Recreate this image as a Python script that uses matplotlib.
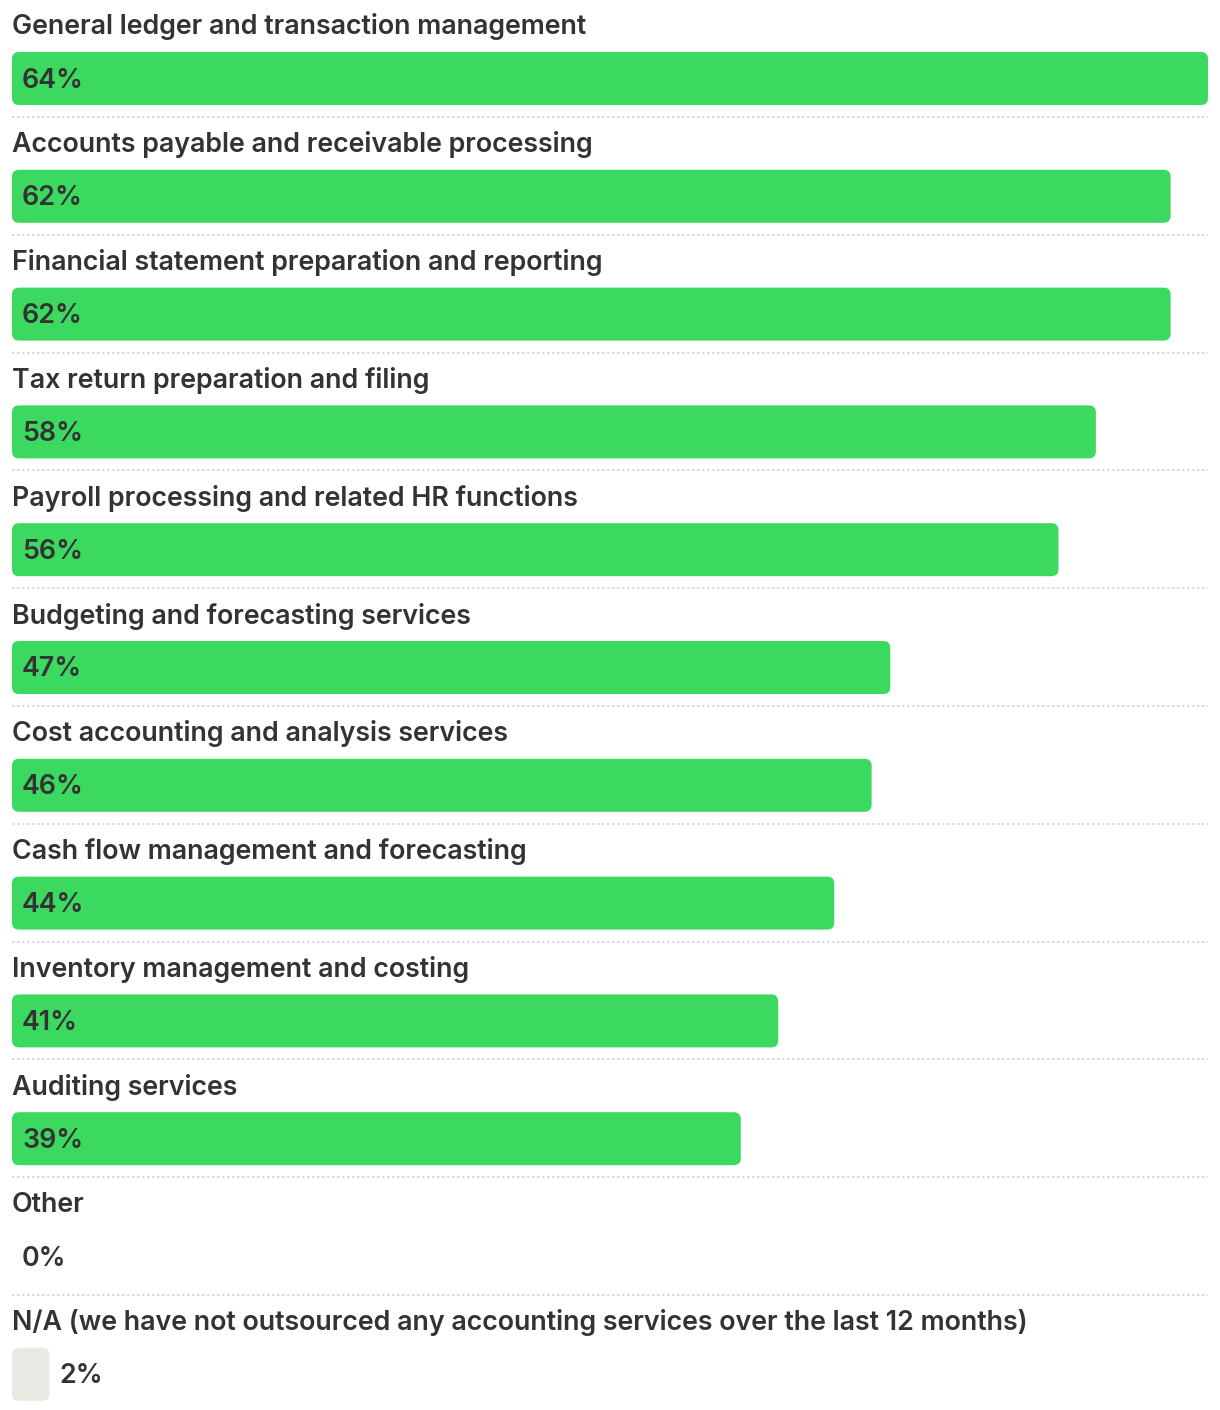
import matplotlib
matplotlib.use("Agg")
from matplotlib import pyplot as plt
from matplotlib.patches import FancyBboxPatch

labels = [
    "General ledger and transaction management",
    "Accounts payable and receivable processing",
    "Financial statement preparation and reporting",
    "Tax return preparation and filing",
    "Payroll processing and related HR functions",
    "Budgeting and forecasting services",
    "Cost accounting and analysis services",
    "Cash flow management and forecasting",
    "Inventory management and costing",
    "Auditing services",
    "Other",
    "N/A (we have not outsourced any accounting services over the last 12 months)",
]
values = [64, 62, 62, 58, 56, 47, 46, 44, 41, 39, 0, 2]
colors = ["#3bd960"] * 10 + ["#3bd960", "#e9e9e3"]

W, H = 1220, 1410
plt.rcParams["font.family"] = ["Inter", "DejaVu Sans"]

fig = plt.figure(figsize=(W / 100, H / 100), dpi=100)
x0, x1 = 12, 1208
ax = fig.add_axes([x0 / W, 0, (x1 - x0) / W, 1])
ax.set_xlim(0, max(values))
ax.set_ylim(H, 0)
ax.axis("off")

px_per_unit = (x1 - x0) / max(values)  # pixels per percent
step = 117.8
text_color = "#333333"

for i, (lab, v, c) in enumerate(zip(labels, values, colors)):
    top = i * step
    ax.text(0, top + 27, lab, fontsize=19.3, fontweight="semibold", color=text_color,
            va="center", ha="left", clip_on=False)
    bar_top = top + 52
    bar_h = 53
    if v > 0:
        r = 7 / px_per_unit
        patch = FancyBboxPatch((0, bar_top), v, bar_h,
                               boxstyle=f"round,pad=0,rounding_size={r}",
                               mutation_aspect=px_per_unit,
                               facecolor=c, edgecolor="none")
        ax.add_patch(patch)
    # value label inside if the bar is wide enough, else after it
    if v * px_per_unit > 80:
        tx = 10 / px_per_unit
    else:
        tx = v + 10 / px_per_unit
    ax.text(tx, bar_top + bar_h / 2 + 2, f"{v}%", fontsize=19.3, fontweight="semibold",
            color=text_color, va="center", ha="left")
    if i < len(labels) - 1:
        ax.plot([0, max(values)], [top + 117, top + 117], color="#d4d4d4",
                linewidth=1.2, linestyle=(0, (1.5, 1.5)), clip_on=False)

fig.savefig("out.png", dpi=100)
